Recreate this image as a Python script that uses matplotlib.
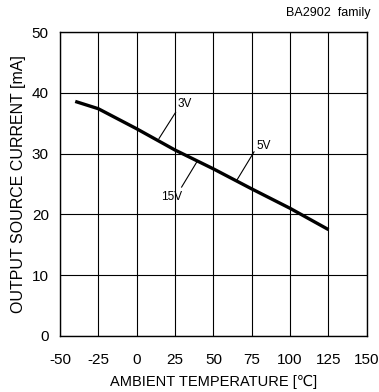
import matplotlib
matplotlib.use('Agg')
import matplotlib.pyplot as plt

plt.rcParams['font.family'] = ['Liberation Sans', 'DejaVu Sans']
plt.rcParams['axes.unicode_minus'] = False

# curve
temp = [-40, -25, 0, 25, 50, 75, 100, 125]
current = [38.6, 37.4, 34.1, 30.6, 27.5, 24.2, 21.0, 17.5]

x_ticks = [-50, -25, 0, 25, 50, 75, 100, 125, 150]
y_ticks = [0, 10, 20, 30, 40, 50]

# supply voltage labels: (text, text pos, leader start, leader end)
labels = [
    ('3V', (31.5, 38.2), (25.4, 36.8), (14.6, 32.5)),
    ('15V', (22.8, 22.9), (29.3, 24.5), (39.6, 28.8)),
    ('5V', (82.6, 31.2), (76.5, 30.3), (65.2, 25.6)),
]

fig = plt.figure(figsize=(3.79, 3.92), dpi=100)
ax = fig.add_axes([0.158, 0.143, 0.81, 0.775])

ax.plot(temp, current, color='black', lw=2.4, solid_capstyle='butt', zorder=3)

for text, tpos, p0, p1 in labels:
    ax.plot([p0[0], p1[0]], [p0[1], p1[1]], color='black', lw=0.8, zorder=3)
    ax.text(tpos[0], tpos[1], text, fontsize=8.5, ha='center', va='center')

ax.set_xlim(-50, 150)
ax.set_ylim(0, 50)
ax.set_xticks(x_ticks)
ax.set_yticks(y_ticks)
ax.grid(True, color='black', lw=0.8)
ax.tick_params(length=0, labelsize=11)
ax.tick_params(axis='x', pad=12)
ax.tick_params(axis='y', pad=8)
for sp in ax.spines.values():
    sp.set_linewidth(1.0)

ax.set_xlabel('AMBIENT TEMPERATURE [\u2103]', fontsize=10.5, labelpad=6)
ax.set_ylabel('OUTPUT SOURCE CURRENT [mA]', fontsize=11.5, labelpad=4)
fig.text(0.977, 0.966, 'BA2902  family', fontsize=9, ha='right', va='center')

fig.savefig('out.png', dpi=100)
